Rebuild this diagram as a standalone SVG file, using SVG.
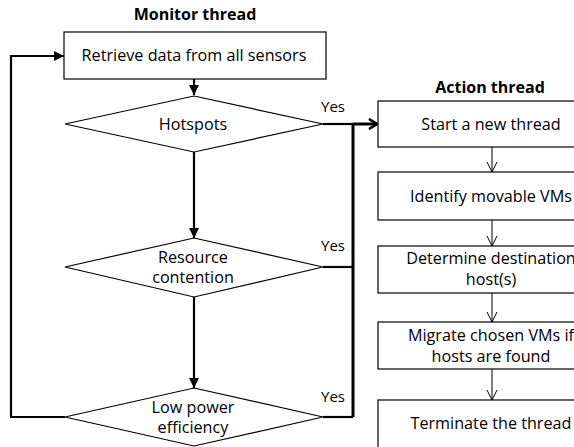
<svg xmlns="http://www.w3.org/2000/svg" width="574" height="447" viewBox="0 0 574 447">
<style>
.t{font-family:"Open Sans","Liberation Sans",sans-serif;font-size:16.2px;fill:#000;text-anchor:middle}
.h{font-family:"Open Sans","Liberation Sans",sans-serif;font-size:16px;font-weight:bold;fill:#000;text-anchor:middle}
.y{font-family:"Open Sans","Liberation Sans",sans-serif;font-size:15px;fill:#000}
.n{fill:#fff;stroke:#000;stroke-width:1.2}
.c{fill:none;stroke:#000;stroke-width:2.2}
.ct{fill:none;stroke:#000;stroke-width:3}
.a{fill:none;stroke:#000;stroke-width:1}
</style>
<defs>
<marker id="fa" viewBox="0 0 10 10" refX="10" refY="5" markerWidth="10" markerHeight="10" markerUnits="userSpaceOnUse" orient="auto"><path d="M0,0 L10,5 L0,10 Z" fill="#000"/></marker>
<marker id="oa" viewBox="0 0 10 12" refX="9" refY="6" markerWidth="10" markerHeight="12" markerUnits="userSpaceOnUse" orient="auto"><path d="M1,1 L9,6 L1,11" fill="none" stroke="#000" stroke-width="2.6"/></marker>
<marker id="va" viewBox="0 0 12 12" refX="6" refY="11" markerWidth="12" markerHeight="12" markerUnits="userSpaceOnUse" orient="0"><path d="M1,1 L6,11 L11,1" fill="none" stroke="#000" stroke-width="1"/></marker>
</defs>
<text class="h" x="195" y="20">Monitor thread</text>
<text class="h" x="490" y="93">Action thread</text>
<g id="connectors">
<path class="c" d="M194,79 V95" marker-end="url(#fa)"/>
<path class="c" d="M194,152 V238" marker-end="url(#fa)"/>
<path class="c" d="M194,297 V388" marker-end="url(#fa)"/>
<path class="c" d="M65,417 H11 V56 H64" marker-end="url(#fa)"/>
<path class="c" d="M323,124 H353"/>
<path class="c" d="M323,267 H353"/>
<path class="c" d="M323,417 H353"/>
<path class="ct" d="M353,417 V124"/>
<path class="ct" d="M353,124 H377" marker-end="url(#oa)"/>
<path class="a" d="M492,147 V172" marker-end="url(#va)"/>
<path class="a" d="M492,220 V246" marker-end="url(#va)"/>
<path class="a" d="M492,293 V322" marker-end="url(#va)"/>
<path class="a" d="M492,369 V400" marker-end="url(#va)"/>
<text class="y" x="321" y="112">Yes</text>
<text class="y" x="321" y="251">Yes</text>
<text class="y" x="321" y="402">Yes</text>
</g>
<g id="retrieve">
<rect class="n" x="64" y="32" width="262" height="47"/>
<text class="t" x="194" y="61">Retrieve data from all sensors</text>
</g>
<g id="hotspots">
<polygon class="n" points="194,96 323,124 194,152 65,124"/>
<text class="t" x="193" y="130">Hotspots</text>
</g>
<g id="resource">
<polygon class="n" points="194,238 323,267 194,297 65,267"/>
<text class="t" x="193" y="263">Resource</text>
<text class="t" x="193" y="283">contention</text>
</g>
<g id="lowpower">
<polygon class="n" points="194,388 323,417 194,446 65,417"/>
<text class="t" x="193" y="413">Low power</text>
<text class="t" x="193" y="433">efficiency</text>
</g>
<g id="start">
<rect class="n" x="378" y="101" width="230" height="46"/>
<text class="t" x="491" y="130">Start a new thread</text>
</g>
<g id="identify">
<rect class="n" x="378" y="172" width="230" height="48"/>
<text class="t" x="491" y="202">Identify movable VMs</text>
</g>
<g id="determine">
<rect class="n" x="378" y="246" width="230" height="47"/>
<text class="t" x="491" y="264">Determine destination</text>
<text class="t" x="491" y="285">host(s)</text>
</g>
<g id="migrate">
<rect class="n" x="378" y="322" width="230" height="47"/>
<text class="t" x="491" y="341">Migrate chosen VMs if</text>
<text class="t" x="491" y="362">hosts are found</text>
</g>
<g id="terminate">
<rect class="n" x="378" y="400" width="230" height="60"/>
<text class="t" x="491" y="429">Terminate the thread</text>
</g>
</svg>
